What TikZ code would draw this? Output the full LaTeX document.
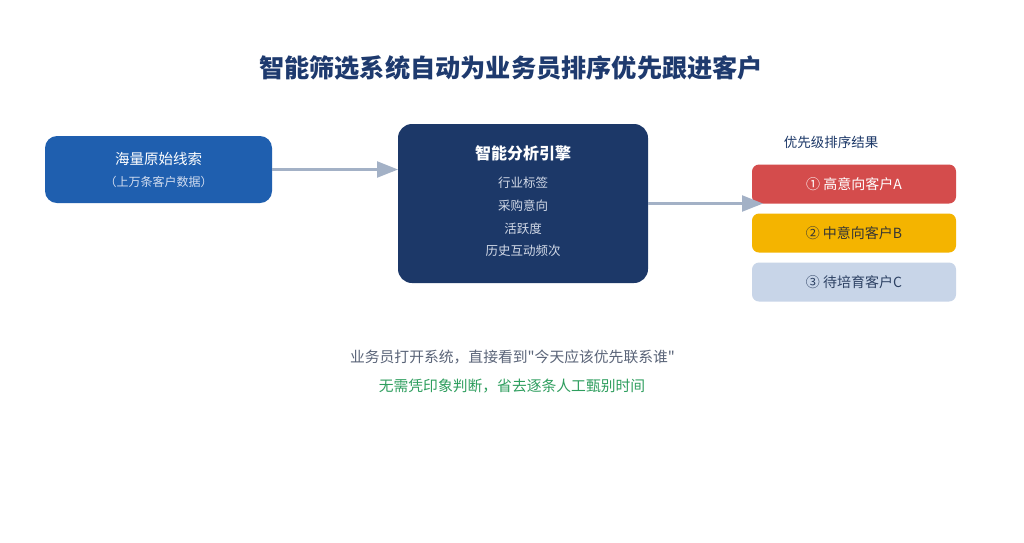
\documentclass[tikz,border=0pt]{standalone}
\usepackage{fontspec}
\setmainfont{Noto Sans CJK SC}[Ligatures=TeXOff]
\usetikzlibrary{arrows.meta}
\definecolor{navy}{HTML}{1C3868}
\definecolor{titlecol}{HTML}{1E3A6E}
\definecolor{srcblue}{HTML}{1F5FAF}
\definecolor{arrowcol}{HTML}{A3B1C6}
\definecolor{redbox}{HTML}{D44C4C}
\definecolor{yellowbox}{HTML}{F4B400}
\definecolor{lightbox}{HTML}{C8D5E8}
\definecolor{subtext}{HTML}{D2DDF0}
\definecolor{itemtext}{HTML}{D3DAE8}
\definecolor{graytext}{HTML}{5A6478}
\definecolor{greentext}{HTML}{2E9E5E}
\definecolor{yeltext}{HTML}{353535}
\definecolor{lighttext}{HTML}{2D4163}
\newcommand{\fsz}[1]{\fontsize{#1pt}{#1pt}\selectfont}
\begin{document}
\begin{tikzpicture}[x=1pt,y=-1pt,
  plainbox/.style={inner sep=0pt, outer sep=0pt},
  txt/.style={inner sep=0pt, outer sep=0pt, anchor=center},
  flow/.style={draw=arrowcol, line width=2.2pt, -{Triangle[length=21pt,width=16pt]}},
  rankbox/.style={plainbox, rounded corners=7pt, minimum width=204pt, minimum height=39pt}
]
\useasboundingbox (0,0) rectangle (1024,542);
\fill[white] (0,0) rectangle (1024,542);

% title
\node[txt, text=titlecol] (title) at (511,68) {\fsz{25.2}\bfseries 智能筛选系统自动为业务员排序优先跟进客户};

% source box
\node[plainbox, fill=srcblue, rounded corners=12pt, minimum width=227pt, minimum height=67pt] (src) at (158.5,169.5) {};
\node[txt, text=white] (srcA) at (158.5,159) {\fsz{14.5}海量原始线索};
\node[txt, text=subtext] (srcB) at (158.5,182) {\fsz{12}（上万条客户数据）};

% engine box
\node[plainbox, fill=navy, rounded corners=14pt, minimum width=250pt, minimum height=159pt] (eng) at (523,203.5) {};
\node[txt, text=white] (engT) at (523,153) {\fsz{16}\bfseries 智能分析引擎};
\node[txt, text=itemtext] (eng1) at (523,182.5) {\fsz{12.5}行业标签};
\node[txt, text=itemtext] (eng2) at (523,205.5) {\fsz{12.5}采购意向};
\node[txt, text=itemtext] (eng3) at (523,228.5) {\fsz{12.5}活跃度};
\node[txt, text=itemtext] (eng4) at (523,250.5) {\fsz{12.5}历史互动频次};

% result label
\node[txt, text=navy] (reslabel) at (831,142) {\fsz{13.5}优先级排序结果};

% rank boxes
\node[rankbox, fill=redbox] (r1) at (854,184) {};
\node[txt, text=white] (r1t) at (854,184) {\fsz{14}① 高意向客户A};
\node[rankbox, fill=yellowbox] (r2) at (854,233) {};
\node[txt, text=yeltext] (r2t) at (854,233) {\fsz{14}② 中意向客户B};
\node[rankbox, fill=lightbox] (r3) at (854,282) {};
\node[txt, text=lighttext] (r3t) at (854,282) {\fsz{14}③ 待培育客户C};

% connectors
\draw[flow] (src.east) -- (eng.west |- src.east);
\coordinate (tip) at (763,203.5);
\draw[flow] (eng.east) -- (tip);

% bottom texts
\node[txt, text=graytext] (note1) at (512.5,357) {\fsz{14.8}业务员打开系统，直接看到"今天应该优先联系谁"};
\node[txt, text=greentext] (note2) at (512,386) {\fsz{14.8}无需凭印象判断，省去逐条人工甄别时间};
\end{tikzpicture}
\end{document}
